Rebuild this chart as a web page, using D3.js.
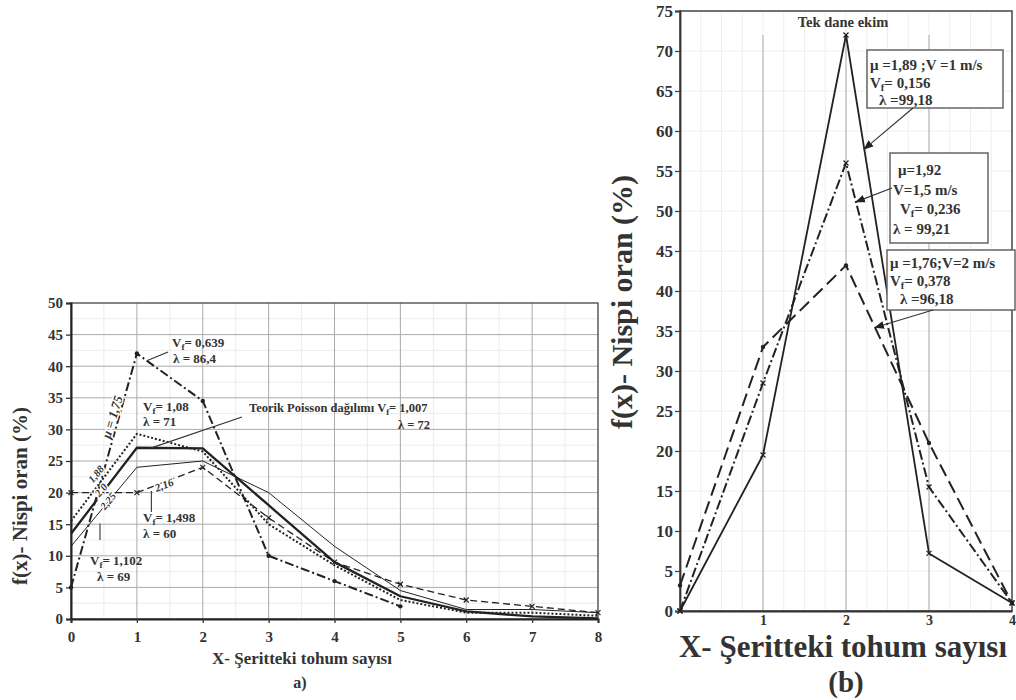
<!DOCTYPE html>
<html>
<head>
<meta charset="utf-8">
<script src="https://cdn.jsdelivr.net/npm/d3@7"></script>
<style>
  body { margin: 0; background: #fff; }
  svg text { font-family: "Liberation Serif", "DejaVu Serif", serif; font-weight: bold; fill: #333; }
</style>
</head>
<body>
<div id="chart"></div>
<script>

  // panel a) values, x = seeds per strip
  var xA = [0, 1, 2, 3, 4, 5, 6, 7, 8]
  var a_dashdot = [5, 42, 34.5, 10, 6, 2]            // mu = 1,75
  var a_poisson = [13.5, 27.1, 27, 18, 9, 3.6, 1.2, 0.4, 0.1]
  var a_dotted  = [15.5, 29.3, 26.5, 15, 8.5, 3, 1, 1, 0.5]
  var a_thin    = [11.5, 24, 25, 20, 11.5, 4.5, 1.5, 1.5, 1]
  var a_dashed  = [20, 20, 24, 16, 9, 5.5, 3, 2, 1]  // mu = 2,16

  // panel (b) values
  var xB = [0, 1, 2, 3, 4]
  var b_v1  = [0, 19.5, 72, 7.2, 1]
  var b_v15 = [0, 28.5, 56, 15.5, 1]
  var b_v2  = [3.2, 33, 43.2, 21, 1]

  var yTicksA = d3.range(0, 51, 5)
  var yTicksB = d3.range(0, 76, 5)
  var xTicksB = [1, 2, 3, 4]

  var svg = d3.select("#chart").append("svg")
      .attr("width", 1016)
      .attr("height", 700)

  var defs = svg.append("defs")
  defs.append("marker")
      .attr("id", "arrow")
      .attr("viewBox", "0 0 10 10")
      .attr("refX", 9).attr("refY", 5)
      .attr("markerWidth", 9).attr("markerHeight", 9)
      .attr("orient", "auto")
    .append("path")
      .attr("d", "M0,1 L10,5 L0,9 Z")
      .attr("fill", "#222")

  // scales
  var xScaleA = d3.scaleLinear().domain([0, 8]).range([71, 598])
  var yScaleA = d3.scaleLinear().domain([0, 50]).range([619, 303])
  var xScaleB = d3.scaleLinear().domain([0, 4]).range([680, 1012])
  var yScaleB = d3.scaleLinear().domain([0, 75]).range([611, 11])

  function interp(vals, xv) {
    var i = Math.floor(xv), t = xv - i
    return vals[i] + (vals[i + 1] - vals[i]) * t
  }

  // text with "_f" written as a subscript f
  function richText(g, x, y, str, size, anchor) {
    var t = g.append("text")
        .attr("x", x).attr("y", y)
        .attr("font-size", size)
        .attr("text-anchor", anchor || "start")
    var parts = str.split("_f")
    t.append("tspan").text(parts[0])
    if (parts.length > 1) {
      t.append("tspan").attr("font-size", size * 0.7).attr("dy", size * 0.22).text("f")
      t.append("tspan").attr("dy", -size * 0.22).text(parts[1])
    }
    return t
  }

  function drawSeries(g, xs, vals, xs_, ys_, style) {
    var line = d3.line()
        .x(function(d, i) { return xs_(xs[i]) })
        .y(function(d) { return ys_(d) })
    g.append("path")
        .datum(vals)
        .attr("d", line)
        .attr("fill", "none")
        .attr("stroke", style.color || "#222")
        .attr("stroke-width", style.width)
        .attr("stroke-dasharray", style.dash || null)
        .attr("stroke-linejoin", "round")
    if (style.marker == "x") {
      g.selectAll(null).data(vals).enter().append("path")
          .attr("d", function(d, i) {
            var cx = xs_(xs[i]), cy = ys_(d), s = 2.5
            return "M" + (cx - s) + "," + (cy - s) + "L" + (cx + s) + "," + (cy + s) +
                   "M" + (cx - s) + "," + (cy + s) + "L" + (cx + s) + "," + (cy - s)
          })
          .attr("stroke", "#222").attr("stroke-width", 1.2)
    } else if (style.marker == "dot") {
      g.selectAll(null).data(vals).enter().append("circle")
          .attr("cx", function(d, i) { return xs_(xs[i]) })
          .attr("cy", function(d) { return ys_(d) })
          .attr("r", 2.2)
          .attr("fill", "#222")
    }
  }

  function leader(g, x1, y1, x2, y2, arrow) {
    g.append("line")
        .attr("x1", x1).attr("y1", y1).attr("x2", x2).attr("y2", y2)
        .attr("stroke", "#333").attr("stroke-width", 1.1)
        .attr("marker-end", arrow ? "url(#arrow)" : null)
  }

  // ---------------- panel a) ----------------
  var gA = svg.append("g")

  // minor grid
  gA.append("g").selectAll("line").data(d3.range(0.5, 8, 1)).enter().append("line")
      .attr("x1", xScaleA).attr("x2", xScaleA)
      .attr("y1", yScaleA(0)).attr("y2", yScaleA(50))
      .attr("stroke", "#ececec")
  gA.append("g").selectAll("line").data(d3.range(2.5, 50, 5)).enter().append("line")
      .attr("x1", xScaleA(0)).attr("x2", xScaleA(8))
      .attr("y1", yScaleA).attr("y2", yScaleA)
      .attr("stroke", "#ececec")

  // major grid
  gA.append("g").selectAll("line").data(d3.range(1, 8)).enter().append("line")
      .attr("x1", xScaleA).attr("x2", xScaleA)
      .attr("y1", yScaleA(0)).attr("y2", yScaleA(50))
      .attr("stroke", "#aaa")
  gA.append("g").selectAll("line").data(d3.range(5, 50, 5)).enter().append("line")
      .attr("x1", xScaleA(0)).attr("x2", xScaleA(8))
      .attr("y1", yScaleA).attr("y2", yScaleA)
      .attr("stroke", "#aaa")

  // frame
  gA.append("rect")
      .attr("x", xScaleA(0)).attr("y", yScaleA(50))
      .attr("width", xScaleA(8) - xScaleA(0))
      .attr("height", yScaleA(0) - yScaleA(50))
      .attr("fill", "none").attr("stroke", "#444").attr("stroke-width", 1.3)

  var yAxisA = d3.axisLeft(yScaleA).tickValues(yTicksA).tickSize(5).tickPadding(3)
  gA.append("g")
      .attr("class", "y axis")
      .attr("transform", "translate(" + xScaleA(0) + ",0)")
      .call(yAxisA)
  var xAxisA = d3.axisBottom(xScaleA).tickValues(xA).tickSize(4).tickPadding(8)
  gA.append("g")
      .attr("class", "x axis")
      .attr("transform", "translate(0," + yScaleA(0) + ")")
      .call(xAxisA)
  gA.selectAll(".axis text").attr("font-size", 15).attr("fill", "#444")
  gA.selectAll(".axis .tick line").attr("stroke", "#333").attr("stroke-width", 1.3)
  gA.selectAll(".axis .domain").attr("stroke", "#222").attr("stroke-width", 2)

  // series
  drawSeries(gA, xA, a_thin, xScaleA, yScaleA, {width: 1})
  drawSeries(gA, xA, a_dashed, xScaleA, yScaleA, {width: 1.3, dash: "7,4", marker: "x"})
  drawSeries(gA, xA, a_dotted, xScaleA, yScaleA, {width: 2, dash: "2,2"})
  drawSeries(gA, xA, a_poisson, xScaleA, yScaleA, {width: 2.3})
  drawSeries(gA, xA, a_dashdot, xScaleA, yScaleA, {width: 2, dash: "9,3,2,3", marker: "dot"})

  // annotations
  leader(gA, xScaleA(1.15), yScaleA(interp(a_dashdot, 1.15)), 168, 352)
  richText(gA, 172, 347, "V_f= 0,639", 13)
  richText(gA, 173, 363, "λ = 86,4", 13)

  richText(gA, 143, 411, "V_f= 1,08", 13)
  richText(gA, 143, 426, "λ = 71", 13)

  leader(gA, xScaleA(1.22), yScaleA(interp(a_poisson, 1.22)), 242, 417)
  richText(gA, 249, 412, "Teorik Poisson dağılımı V_f= 1,007", 12.5)
  richText(gA, 398, 429, "λ = 72", 12.5)

  leader(gA, xScaleA(1.22), yScaleA(interp(a_dashed, 1.22)) + 4, xScaleA(1.22), 512)
  richText(gA, 143, 522, "V_f= 1,498", 13)
  richText(gA, 143, 538, "λ = 60", 13)

  leader(gA, xScaleA(0.44), yScaleA(interp(a_thin, 0.44)) + 12, xScaleA(0.44), 540)
  richText(gA, 90, 565, "V_f= 1,102", 13)
  richText(gA, 97, 581, "λ = 69", 13)

  // rotated mu labels along the lines (white halo breaks the line like the print)
  function rotLabel(g, x, y, ang, str, size) {
    g.append("text")
        .attr("transform", "translate(" + x + "," + y + ") rotate(" + ang + ")")
        .attr("text-anchor", "middle")
        .attr("dy", "0.35em")
        .attr("font-size", size)
        .attr("font-style", "italic")
        .attr("stroke", "#fff")
        .attr("stroke-width", 3)
        .attr("paint-order", "stroke")
        .text(str)
  }
  rotLabel(gA, 112, 417, -73, "μ = 1,75", 13)
  rotLabel(gA, 96, 474, -50, "1,88", 10.5)
  rotLabel(gA, 101, 490, -50, "2,0", 10.5)
  rotLabel(gA, 108, 501, -50, "2,25", 10.5)
  rotLabel(gA, 164, 485, -21, "2,16", 11)

  // axis titles
  gA.append("text")
      .attr("transform", "translate(27,496) rotate(-90)")
      .attr("text-anchor", "middle")
      .attr("font-size", 21)
      .text("f(x)- Nispi oran (%)")
  gA.append("text")
      .attr("x", 302).attr("y", 664)
      .attr("text-anchor", "middle")
      .attr("font-size", 17)
      .text("X- Şeritteki tohum sayısı")
  gA.append("text")
      .attr("x", 300).attr("y", 688)
      .attr("text-anchor", "middle")
      .attr("font-size", 16)
      .text("a)")

  // ---------------- panel (b) ----------------
  var gB = svg.append("g")

  gB.append("g").selectAll("line").data(d3.range(0.25, 4, 0.25)).enter().append("line")
      .attr("x1", xScaleB).attr("x2", xScaleB)
      .attr("y1", yScaleB(0)).attr("y2", yScaleB(75))
      .attr("stroke", "#eee")
  gB.append("g").selectAll("line").data(d3.range(5, 75, 5)).enter().append("line")
      .attr("x1", xScaleB(0)).attr("x2", xScaleB(4))
      .attr("y1", yScaleB).attr("y2", yScaleB)
      .attr("stroke", "#eee")
  gB.append("g").selectAll("line").data([1, 2, 3]).enter().append("line")
      .attr("x1", xScaleB).attr("x2", xScaleB)
      .attr("y1", yScaleB(0)).attr("y2", yScaleB(72))
      .attr("stroke", "#aaa")

  gB.append("rect")
      .attr("x", xScaleB(0)).attr("y", yScaleB(75))
      .attr("width", xScaleB(4) - xScaleB(0))
      .attr("height", yScaleB(0) - yScaleB(75))
      .attr("fill", "none").attr("stroke", "#444").attr("stroke-width", 1.5)

  var yAxisB = d3.axisLeft(yScaleB).tickValues(yTicksB).tickSize(5).tickPadding(2)
  gB.append("g")
      .attr("class", "y axis")
      .attr("transform", "translate(" + xScaleB(0) + ",0)")
      .call(yAxisB)
  var xAxisB = d3.axisBottom(xScaleB).tickValues(xTicksB).tickFormat(d3.format("d"))
      .tickSize(0).tickPadding(4)
  gB.append("g")
      .attr("class", "x axis")
      .attr("transform", "translate(0," + yScaleB(0) + ")")
      .call(xAxisB)
  gB.selectAll(".axis text").attr("font-size", 17).attr("fill", "#444")
  gB.selectAll(".x.axis text").attr("font-size", 14)
  gB.selectAll(".axis .tick line").attr("stroke", "#444").attr("stroke-width", 1.3)
  gB.selectAll(".axis .domain").attr("stroke", "#333").attr("stroke-width", 1.8)

  drawSeries(gB, xB, b_v2, xScaleB, yScaleB, {width: 2, dash: "13,6", marker: "dot"})
  drawSeries(gB, xB, b_v15, xScaleB, yScaleB, {width: 2, dash: "10,3,2,3", marker: "x"})
  drawSeries(gB, xB, b_v1, xScaleB, yScaleB, {width: 1.8, marker: "x"})

  gB.append("text")
      .attr("x", 843).attr("y", 27)
      .attr("text-anchor", "middle")
      .attr("font-size", 14.5)
      .attr("fill", "#444")
      .text("Tek dane ekim")

  // boxed labels
  function box(g, x, y, w, h) {
    g.append("rect")
        .attr("x", x).attr("y", y).attr("width", w).attr("height", h)
        .attr("fill", "#fff").attr("stroke", "#666").attr("stroke-width", 1.5)
  }

  box(gB, 867, 50, 136, 58)
  richText(gB, 870, 70, "μ =1,89 ;V =1 m/s", 15)
  richText(gB, 870, 88, "V_f= 0,156", 15)
  richText(gB, 879, 105, "λ =99,18", 15)
  leader(gB, 913, 108, xScaleB(2.22), yScaleB(interp(b_v1, 2.22)), true)

  box(gB, 890, 153, 98, 90)
  richText(gB, 898, 175, "μ=1,92", 15)
  richText(gB, 893, 195, "V=1,5 m/s", 15)
  richText(gB, 900, 214, "V_f= 0,236", 15)
  richText(gB, 893, 234, "λ = 99,21", 15)
  leader(gB, 892, 188, xScaleB(2.12), yScaleB(interp(b_v15, 2.12)), true)

  box(gB, 887, 250, 128, 60)
  richText(gB, 890, 268, "μ =1,76;V=2 m/s", 15)
  richText(gB, 890, 286, "V_f= 0,378", 15)
  richText(gB, 900, 304, "λ =96,18", 15)
  leader(gB, 933, 310, xScaleB(2.35), yScaleB(interp(b_v2, 2.35)), true)

  gB.append("text")
      .attr("transform", "translate(632,302) rotate(-90)")
      .attr("text-anchor", "middle")
      .attr("font-size", 30)
      .attr("fill", "#222")
      .text("f(x)- Nispi oran (%)")
  gB.append("text")
      .attr("x", 843).attr("y", 657)
      .attr("text-anchor", "middle")
      .attr("font-size", 31)
      .attr("fill", "#222")
      .text("X- Şeritteki tohum sayısı")
  gB.append("text")
      .attr("x", 846).attr("y", 692)
      .attr("text-anchor", "middle")
      .attr("font-size", 29)
      .attr("fill", "#222")
      .text("(b)")

</script>
</body>
</html>
